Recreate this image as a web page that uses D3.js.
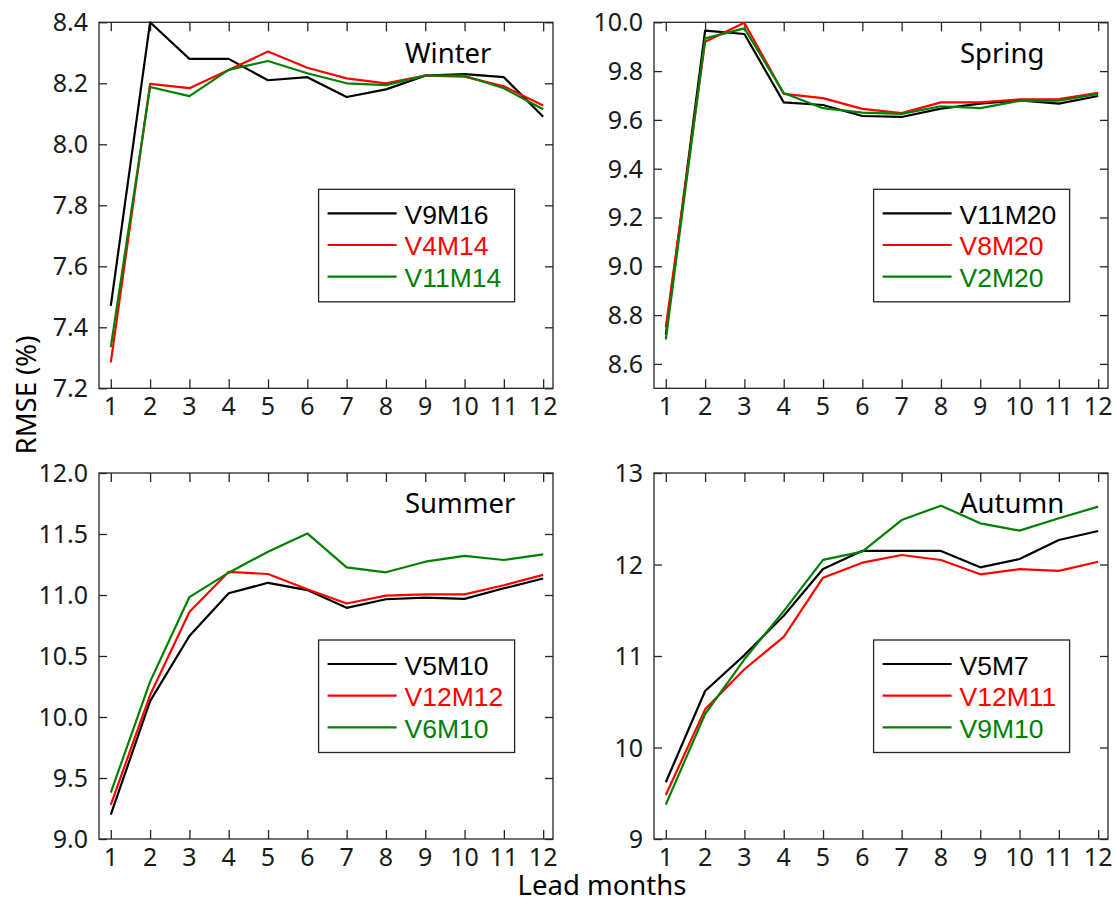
<!DOCTYPE html>
<html>
<head>
<meta charset="utf-8">
<script src="https://cdn.jsdelivr.net/npm/d3@7"></script>
<style>
  body { margin: 0; background: #fff; }
  svg { display: block; }
  .tick-label { font-family: 'Noto Sans', sans-serif; font-size: 25px; fill: #1a1a1a; }
  .season { font-family: 'Noto Sans', sans-serif; font-size: 27.5px; fill: #000; }
  .legend-text { font-family: 'Liberation Sans', Arial, sans-serif; font-size: 26.5px; }
  .axis-title { font-family: 'Noto Sans', sans-serif; font-size: 27.5px; fill: #000; }
</style>
</head>
<body>
<script>
const width = 1116;
const height = 903;

const months = [1, 2, 3, 4, 5, 6, 7, 8, 9, 10, 11, 12];
const seasons = ['Winter', 'Spring', 'Summer', 'Autumn'];

const winterNames = ['V9M16', 'V4M14', 'V11M14'];
const winterA = [7.47, 8.40, 8.28, 8.28, 8.21, 8.22, 8.155, 8.18, 8.225, 8.23, 8.22, 8.09];
const winterB = [7.285, 8.198, 8.184, 8.244, 8.304, 8.251, 8.216, 8.20, 8.225, 8.222, 8.19, 8.127];
const winterC = [7.335, 8.188, 8.158, 8.244, 8.273, 8.233, 8.20, 8.194, 8.225, 8.225, 8.184, 8.115];

const springNames = ['V11M20', 'V8M20', 'V2M20'];
const springA = [8.72, 9.966, 9.952, 9.672, 9.661, 9.616, 9.612, 9.646, 9.667, 9.68, 9.667, 9.698];
const springB = [8.75, 9.92, 9.998, 9.707, 9.689, 9.645, 9.628, 9.672, 9.672, 9.684, 9.685, 9.711];
const springC = [8.70, 9.934, 9.975, 9.71, 9.648, 9.63, 9.625, 9.656, 9.648, 9.678, 9.679, 9.706];

const summerNames = ['V5M10', 'V12M12', 'V6M10'];
const summerA = [9.20, 10.13, 10.664, 11.014, 11.10, 11.04, 10.895, 10.965, 10.978, 10.968, 11.055, 11.135];
const summerB = [9.28, 10.18, 10.86, 11.19, 11.172, 11.047, 10.93, 10.995, 11.005, 11.005, 11.08, 11.165];
const summerC = [9.38, 10.29, 10.983, 11.183, 11.355, 11.505, 11.227, 11.186, 11.273, 11.32, 11.287, 11.333];

const autumnNames = ['V5M7', 'V12M11', 'V9M10'];
const autumnA = [9.62, 10.617, 11.01, 11.44, 11.95, 12.15, 12.148, 12.148, 11.969, 12.06, 12.268, 12.366];
const autumnB = [9.48, 10.417, 10.855, 11.21, 11.856, 12.02, 12.104, 12.049, 11.893, 11.95, 11.93, 12.03];
const autumnC = [9.376, 10.366, 10.964, 11.49, 12.05, 12.14, 12.486, 12.643, 12.45, 12.37, 12.505, 12.632];

const yDomains = [[7.2, 8.4], [8.5, 10.0], [9.0, 12.0], [9, 13]];
const yTicks = [
  [7.2, 7.4, 7.6, 7.8, 8.0, 8.2, 8.4],
  [8.6, 8.8, 9.0, 9.2, 9.4, 9.6, 9.8, 10.0],
  [9.0, 9.5, 10.0, 10.5, 11.0, 11.5, 12.0],
  [9, 10, 11, 12, 13],
];
const yFormats = ['.1f', '.1f', '.1f', 'd'];

const colors = ['#000000', '#ff0000', '#008000'];

const panels = [
  { names: winterNames, series: [winterA, winterB, winterC], left: 99, top: 22.3 },
  { names: springNames, series: [springA, springB, springC], left: 654, top: 22.3 },
  { names: summerNames, series: [summerA, summerB, summerC], left: 99, top: 473 },
  { names: autumnNames, series: [autumnA, autumnB, autumnC], left: 654, top: 473 },
];

const pw = 454;
const ph = 366;
const axisColor = '#262626';

const svg = d3.select('body')
  .append('svg')
    .attr('width', width)
    .attr('height', height);

const drawPanel = (p, i) => {
  const g = svg.append('g')
    .attr('transform', `translate(${p.left}, ${p.top})`);

  const x = d3.scaleLinear().domain([0.7, 12.25]).range([0, pw]);
  const y = d3.scaleLinear().domain(yDomains[i]).range([ph, 0]);
  const fmt = d3.format(yFormats[i]);

  // inward ticks on all four sides, labels only bottom and left
  g.append('g')
    .attr('transform', `translate(0, ${ph})`)
    .call(d3.axisBottom(x).tickValues(months).tickSize(-9).tickPadding(0).tickFormat(''));
  g.append('g')
    .call(d3.axisTop(x).tickValues(months).tickSize(-9).tickFormat(''));
  g.append('g')
    .call(d3.axisLeft(y).tickValues(yTicks[i]).tickSize(-8).tickFormat(''));
  g.append('g')
    .attr('transform', `translate(${pw}, 0)`)
    .call(d3.axisRight(y).tickValues(yTicks[i]).tickSize(-8).tickFormat(''));

  g.selectAll('.domain').remove();
  g.selectAll('.tick line')
    .attr('stroke', axisColor)
    .attr('stroke-width', 1.3);

  g.append('rect')
    .attr('width', pw)
    .attr('height', ph)
    .attr('fill', 'none')
    .attr('stroke', axisColor)
    .attr('stroke-width', 1.3);

  g.selectAll('text.xl')
    .data(months)
    .enter()
    .append('text')
      .attr('class', 'tick-label xl')
      .attr('x', (d) => x(d))
      .attr('y', ph + 27)
      .attr('text-anchor', 'middle')
      .text((d) => d);

  g.selectAll('text.yl')
    .data(yTicks[i])
    .enter()
    .append('text')
      .attr('class', 'tick-label yl')
      .attr('x', -11)
      .attr('y', (d) => y(d))
      .attr('dy', '0.36em')
      .attr('text-anchor', 'end')
      .text((d) => fmt(d));

  const line = d3.line()
    .x((d, j) => x(months[j]))
    .y((d) => y(d));

  p.series.forEach((s, k) => {
    g.append('path')
      .datum(s)
      .attr('fill', 'none')
      .attr('stroke', colors[k])
      .attr('stroke-width', 2.2)
      .attr('stroke-linejoin', 'round')
      .attr('d', line);
  });

  g.append('text')
    .attr('class', 'season')
    .attr('x', 306)
    .attr('y', 40.4)
    .text(seasons[i]);

  // legend
  const lg = g.append('g')
    .attr('transform', 'translate(219.6, 167)');

  lg.append('rect')
    .attr('width', 196)
    .attr('height', 112.5)
    .attr('fill', '#fff')
    .attr('stroke', axisColor)
    .attr('stroke-width', 1.3);

  p.names.forEach((name, k) => {
    const ly = 24 + k * 31.7;
    lg.append('line')
      .attr('x1', 9)
      .attr('x2', 78)
      .attr('y1', ly)
      .attr('y2', ly)
      .attr('stroke', colors[k])
      .attr('stroke-width', 2.2);
    lg.append('text')
      .attr('class', 'legend-text')
      .attr('x', 86)
      .attr('y', ly + 10.5)
      .attr('fill', colors[k])
      .text(name);
  });
};

panels.forEach(drawPanel);

svg.append('text')
  .attr('class', 'axis-title')
  .attr('transform', 'translate(36, 395) rotate(-90)')
  .attr('text-anchor', 'middle')
  .text('RMSE (%)');

svg.append('text')
  .attr('class', 'axis-title')
  .attr('x', 602)
  .attr('y', 895)
  .attr('text-anchor', 'middle')
  .text('Lead months');
</script>
</body>
</html>
